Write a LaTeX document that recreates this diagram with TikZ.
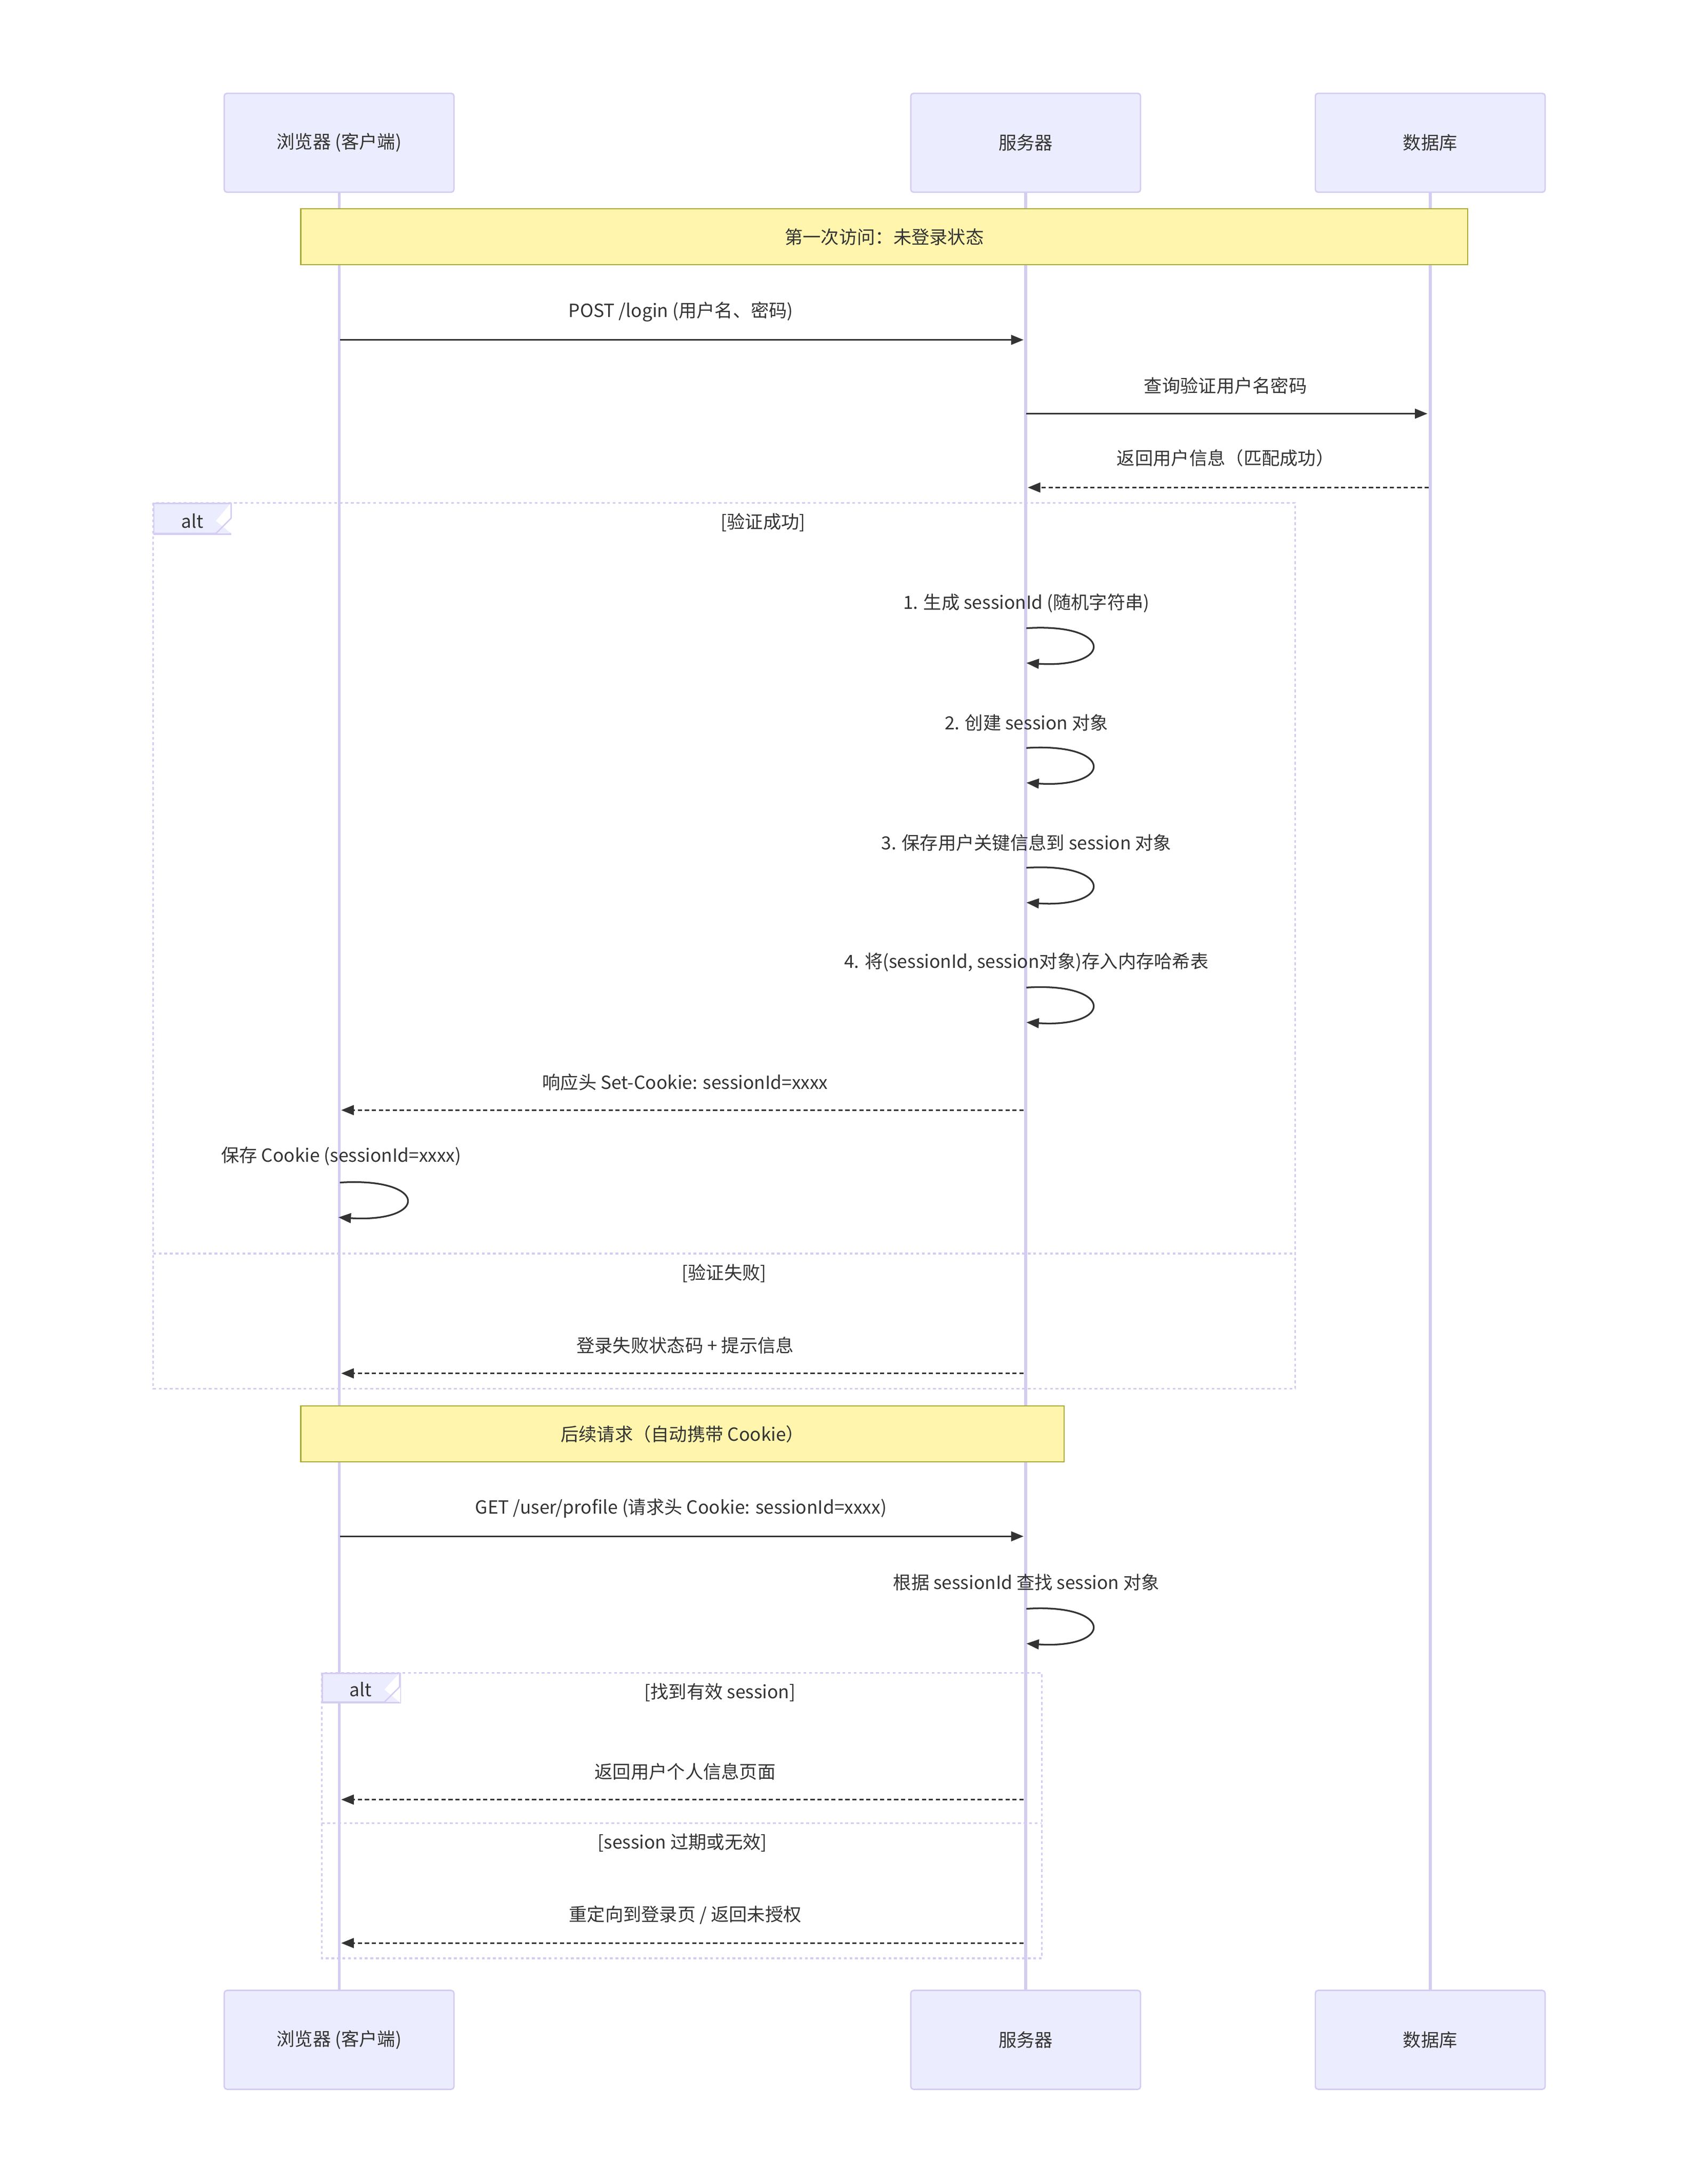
\documentclass[tikz,border=0pt]{standalone}
\usepackage{fontspec}
\setmainfont{Noto Sans CJK SC}
\usetikzlibrary{arrows.meta}
\definecolor{actf}{HTML}{ECECFF}
\definecolor{actd}{HTML}{D4CCF2}
\definecolor{notef}{HTML}{FFF5AD}
\definecolor{noted}{HTML}{AAAA33}
\definecolor{txt}{HTML}{333333}
\begin{document}
\begin{tikzpicture}[x=1pt,y=-1pt,
  font=\fontsize{13}{15}\selectfont, text=txt,
  actor/.style={draw=actd,fill=actf,line width=1pt,minimum width=165pt,minimum height=71pt,rounded corners=2pt},
  note/.style={draw=noted,fill=notef,line width=0.8pt,minimum height=40pt},
  life/.style={actd,line width=2pt},
  lbl/.style={inner sep=0pt},
  msg/.style={txt,line width=1.2pt,-{Triangle[length=9pt,width=7pt]}},
  dmsg/.style={msg,dash pattern=on 3pt off 2pt},
  frame/.style={actd,line width=1.3pt,dash pattern=on 2pt off 2pt},
  self/.style={msg}]
\useasboundingbox (0,0) rectangle (1220,1568);
% lifelines
\foreach \n/\x in {b/243.5,s/736.5,d/1027}{
  \coordinate (\n top) at (\x,138); \coordinate (\n bot) at (\x,1429);
  \draw[life] (\n top) -- (\n bot);}
% actors
\node[actor] (bt) at (243.5,102.5) {浏览器 (客户端)};
\node[actor] (st) at (736.5,102.5) {服务器};
\node[actor] (dt) at (1027,102.5) {数据库};
\node[actor] (bb) at (243.5,1464.5) {浏览器 (客户端)};
\node[actor] (sb) at (736.5,1464.5) {服务器};
\node[actor] (db) at (1027,1464.5) {数据库};
% note 1
\node[note,minimum width=838pt] (n1) at (635,170) {第一次访问：未登录状态};
% messages
\coordinate (m1a) at (244,244); \coordinate (m1b) at (735,244);
\draw[msg] (m1a) -- (m1b);
\node[lbl] (l1) at (489,224) {POST /login (用户名、密码)};
\coordinate (m2a) at (737,297); \coordinate (m2b) at (1025,297);
\draw[msg] (m2a) -- (m2b);
\node[lbl] (l2) at (880,277) {查询验证用户名密码};
\coordinate (m3a) at (1026,350); \coordinate (m3b) at (738,350);
\draw[dmsg] (m3a) -- (m3b);
\node[lbl] (l3) at (880,329) {返回用户信息（匹配成功）};
% alt frame 1
\draw[frame] (110,361) rectangle (930,997);
\draw[frame] (110,900) -- (930,900);
\node[draw=actd,fill=actf,line width=1pt,minimum width=55pt,minimum height=22pt,inner sep=0pt,anchor=north west] (alt1) at (110,361) {};
\fill[white] (155,374) -- (166,383) -- (166,361) -- cycle;
\draw[actd,line width=1pt] (110,383) -- (155,383) -- (166,372) -- (166,361);
\node[lbl] (alt1t) at (138,374) {alt};
\node[lbl] (g1) at (548,375) {[验证成功]};
\node[lbl] (g2) at (520,914) {[验证失败]};
% self loops on server
\foreach \i/\ly/\t in {1/433/{1. 生成 sessionId (随机字符串)},2/519/{2. 创建 session 对象},3/605/{3. 保存用户关键信息到 session 对象},4/691/{4. 将(sessionId, session对象)存入内存哈希表}}{
  \node[lbl] (sl\i) at (737,\ly) {\t};
  \coordinate (sa\i) at (737,\ly+18); \coordinate (sb\i) at (737,\ly+43);
  \draw[self] (sa\i) .. controls (800,\ly+14) and (800,\ly+47) .. (sb\i);}
\coordinate (m4a) at (735,797); \coordinate (m4b) at (245,797);
\draw[dmsg] (m4a) -- (m4b);
\node[lbl] (l4) at (492,777) {响应头 Set-Cookie: sessionId=xxxx};
\node[lbl] (l5) at (245,830) {保存 Cookie (sessionId=xxxx)};
\coordinate (c1) at (244,849); \coordinate (c2) at (243,874);
\draw[self] (c1) .. controls (308,845) and (308,878) .. (c2);
\coordinate (m5a) at (735,986); \coordinate (m5b) at (245,986);
\draw[dmsg] (m5a) -- (m5b);
\node[lbl] (l6) at (492,966) {登录失败状态码 + 提示信息};
% note 2
\node[note,minimum width=548pt] (n2) at (490,1029.5) {后续请求（自动携带 Cookie）};
\coordinate (m6a) at (244,1103); \coordinate (m6b) at (735,1103);
\draw[msg] (m6a) -- (m6b);
\node[lbl] (l7) at (489,1083) {GET /user/profile (请求头 Cookie: sessionId=xxxx)};
\node[lbl] (l8) at (737,1136) {根据 sessionId 查找 session 对象};
\coordinate (s5a) at (737,1155); \coordinate (s5b) at (737,1180);
\draw[self] (s5a) .. controls (800,1151) and (800,1184) .. (s5b);
% alt frame 2
\draw[frame] (231,1201) rectangle (748,1406);
\draw[frame] (231,1309) -- (748,1309);
\node[draw=actd,fill=actf,line width=1pt,minimum width=56pt,minimum height=21pt,inner sep=0pt,anchor=north west] (alt2) at (231,1201) {};
\fill[white] (276,1213) -- (287.5,1222.5) -- (287.5,1200.5) -- cycle;
\draw[actd,line width=1pt] (231,1222) -- (276,1222) -- (287,1211) -- (287,1201);
\node[lbl] (alt2t) at (259,1213) {alt};
\node[lbl] (g3) at (517,1215) {[找到有效 session]};
\node[lbl] (g4) at (490,1323) {[session 过期或无效]};
\coordinate (m7a) at (735,1292); \coordinate (m7b) at (245,1292);
\draw[dmsg] (m7a) -- (m7b);
\node[lbl] (l9) at (492,1272) {返回用户个人信息页面};
\coordinate (m8a) at (735,1395); \coordinate (m8b) at (245,1395);
\draw[dmsg] (m8a) -- (m8b);
\node[lbl] (l10) at (492,1375) {重定向到登录页 / 返回未授权};
\end{tikzpicture}
\end{document}
